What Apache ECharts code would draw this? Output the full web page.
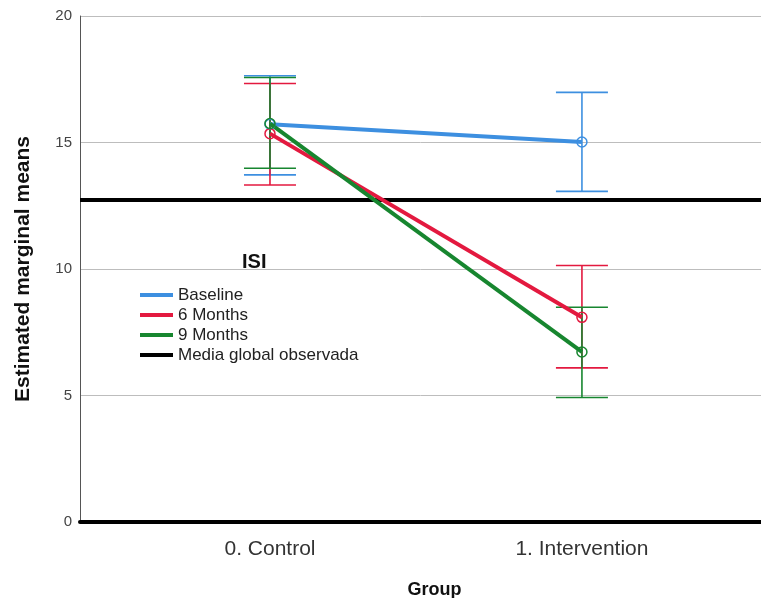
<!DOCTYPE html>
<html>
<head>
<meta charset="utf-8">
<script src="https://cdn.jsdelivr.net/npm/echarts@6/dist/echarts.min.js"></script>
<style>html,body{margin:0;padding:0;background:#fff}#c{width:761px;height:598px}</style>
</head>
<body>
<div id="c"></div>
<script>
// ---- data ----
var categories = ['0. Control', '1. Intervention'];
var seriesNames = ['Baseline', '6 Months', '9 Months'];
var baselineMeans = [15.72, 15.02];
var baselineLow = [13.72, 13.07];
var baselineHigh = [17.64, 16.98];
var m6Means = [15.35, 8.09];
var m6Low = [13.32, 6.09];
var m6High = [17.33, 10.14];
var m9Means = [15.75, 6.72];
var m9Low = [13.98, 4.92];
var m9High = [17.57, 8.49];
var grandMean = 12.75;
var meanLineName = 'Media global observada';
var yTicks = [0, 5, 10, 15, 20];

var colors = ['#3d8fe0', '#e3193f', '#17862f'];
var means = [baselineMeans, m6Means, m9Means];
var lows = [baselineLow, m6Low, m9Low];
var highs = [baselineHigh, m6High, m9High];

var font = 'Liberation Sans, Arial, sans-serif';
var series = [];
series.push({
  type: 'line',
  name: meanLineName,
  color: '#000',
  data: [],
  z: 2,
  lineStyle: { color: '#000', width: 4 },
  markLine: {
    silent: true,
    symbol: 'none',
    z: 2,
    label: { show: false },
    lineStyle: { color: '#000', width: 4, type: 'solid' },
    data: [{ yAxis: grandMean }]
  }
});
seriesNames.forEach(function (name, s) {
  series.push({
    type: 'custom',
    name: name + ' CI',
    silent: true,
    z: 3,
    renderItem: function (params, api) {
      var x = api.value(0);
      var lo = api.coord([x, api.value(1)]);
      var hi = api.coord([x, api.value(2)]);
      var hw = 26;
      var st = { stroke: colors[s], lineWidth: 1.6 };
      return {
        type: 'group',
        children: [
          { type: 'line', shape: { x1: lo[0], y1: lo[1], x2: hi[0], y2: hi[1] }, style: st },
          { type: 'line', shape: { x1: lo[0] - hw, y1: lo[1], x2: lo[0] + hw, y2: lo[1] }, style: st },
          { type: 'line', shape: { x1: hi[0] - hw, y1: hi[1], x2: hi[0] + hw, y2: hi[1] }, style: st }
        ]
      };
    },
    data: categories.map(function (c, i) { return [i, lows[s][i], highs[s][i]]; })
  });
});
seriesNames.forEach(function (name, s) {
  series.push({
    type: 'line',
    name: name,
    z: 4,
    color: colors[s],
    symbol: 'circle',
    symbolSize: 10,
    itemStyle: { color: 'rgba(255,255,255,0)', borderColor: colors[s], borderWidth: 1.5 },
    lineStyle: { color: colors[s], width: 4 },
    data: categories.map(function (c, i) { return [i, means[s][i]]; })
  });
});

var legendData = seriesNames.map(function (n, s) {
  return { name: n, itemStyle: { color: colors[s], borderWidth: 0 } };
}).concat([{ name: meanLineName, itemStyle: { color: '#000', borderWidth: 0 } }]);

var chart = echarts.init(document.getElementById('c'), null, { renderer: 'canvas' });
chart.setOption({
  animation: false,
  backgroundColor: '#fff',
  title: {
    text: 'ISI',
    left: 242, top: 252,
    padding: 0,
    textStyle: { fontFamily: font, fontSize: 20, fontWeight: 'bold', color: '#111' }
  },
  legend: {
    orient: 'vertical',
    left: 140, top: 285,
    padding: 0,
    data: legendData,
    icon: 'rect',
    itemWidth: 33, itemHeight: 4,
    itemGap: 0,
    selectedMode: false,
    textStyle: { fontFamily: font, fontSize: 17, color: '#222', lineHeight: 20 }
  },
  grid: { left: 80, right: 0, top: 16, bottom: 76, containLabel: false, outerBoundsMode: 'none' },
  xAxis: {
    type: 'value',
    min: -0.609, max: 1.574,
    name: 'Group',
    nameLocation: 'middle',
    nameGap: 59,
    nameTextStyle: { fontFamily: font, fontSize: 18, fontWeight: 'bold', color: '#111', padding: [0, 0, 0, 28] },
    axisLine: { show: true, lineStyle: { color: '#000', width: 4 } },
    axisTick: { show: false },
    splitLine: { show: false },
    axisLabel: {
      customValues: [0, 1],
      margin: 17,
      fontFamily: font, fontSize: 21, color: '#333',
      formatter: function (v) { return categories[Math.round(v)]; }
    }
  },
  yAxis: {
    type: 'value',
    min: 0, max: 20, interval: 5,
    name: 'Estimated marginal means',
    nameLocation: 'middle',
    nameGap: 46,
    nameTextStyle: { fontFamily: font, fontSize: 21, fontWeight: 'bold', color: '#111' },
    axisLine: { show: true, onZero: false, lineStyle: { color: '#555', width: 1 } },
    axisTick: { show: false },
    splitLine: { show: true, lineStyle: { color: '#bdbdbd', width: 1 } },
    axisLabel: {
      margin: 8, fontFamily: font, fontSize: 15, color: '#444',
      formatter: function (v) { return yTicks.indexOf(v) >= 0 ? String(v) : ''; }
    }
  },
  series: series
});
</script>
</body>
</html>
